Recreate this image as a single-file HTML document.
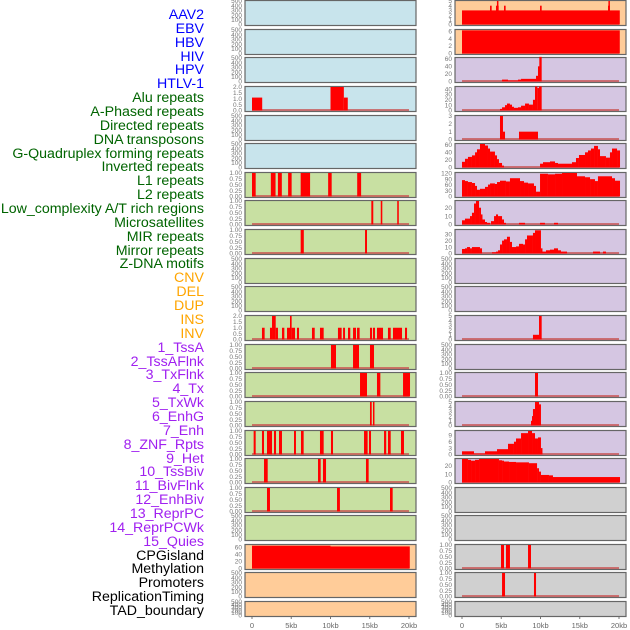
<!DOCTYPE html>
<html><head><meta charset="utf-8"><style>
html,body{margin:0;padding:0;background:#fff;width:630px;height:630px;overflow:hidden}
#labels{position:absolute;left:0;top:0;width:204px;height:630px}
.lab{position:absolute;right:0;font-family:"Liberation Sans",sans-serif;font-size:14.2px;line-height:14px;white-space:nowrap}
svg{position:absolute;left:0;top:0}
</style></head><body>
<div id="labels"></div>
<svg id="chart" width="630" height="630"></svg>
<script>
const trackNames = ["AAV2","EBV","HBV","HIV","HPV","HTLV-1","Alu repeats","A-Phased repeats","Directed repeats","DNA transposons","G-Quadruplex forming repeats","Inverted repeats","L1 repeats","L2 repeats","Low_complexity A/T rich regions","Microsatellites","MIR repeats","Mirror repeats","Z-DNA motifs","CNV","DEL","DUP","INS","INV","1_TssA","2_TssAFlnk","3_TxFlnk","4_Tx","5_TxWk","6_EnhG","7_Enh","8_ZNF_Rpts","9_Het","10_TssBiv","11_BivFlnk","12_EnhBiv","13_ReprPC","14_ReprPCWk","15_Quies","CPGisland","Methylation","Promoters","ReplicationTiming","TAD_boundary"];
const trackGroups = [0,0,0,0,0,0,1,1,1,1,1,1,1,1,1,1,1,1,1,2,2,2,2,2,3,3,3,3,3,3,3,3,3,3,3,3,3,3,3,4,4,4,4,4];
const xTickKb = [0,5,10,15,20];
const xTickLabels = ["0","5kb","10kb","15kb","20kb"];

const TE = ["0","100","200","300","400","500"], VE=[0,100,200,300,400,500];
const TB = ["0.00","0.25","0.50","0.75","1.00"], VB=[0,0.25,0.5,0.75,1];
const T2 = ["0.0","0.5","1.0","1.5","2.0"], V2=[0,0.5,1,1.5,2];

const leftAlu = [[0,1.3,1.1],[10,11.7,2],[11.7,12.2,1.1]];
const leftL1 = [[0,0.47,1],[2.4,3.0,1],[3.3,3.8,1],[4.6,5.05,1],[6.2,7.4,1],[9.7,10.15,1],[13.4,13.9,1]];
const leftL2 = [[15.2,15.45,1],[16.4,16.6,1],[18.5,18.7,1]];
const leftLowc = [[6.2,6.6,1],[14.4,14.65,1]];
const leftIns = [[1.27,1.61,1],[2.29,2.55,1],[2.55,3.02,2],[3.02,3.31,1],[3.82,4.12,1],[4.46,4.84,1],[4.84,5.05,2],[5.05,5.48,1],[5.73,5.99,1],[7.64,7.99,1],[8.66,9.13,1],[10.95,11.42,1],[11.6,11.85,1],[12.23,12.52,1],[12.87,13.25,1],[13.38,13.71,1],[15.03,15.29,1],[15.41,15.67,1],[15.92,16.69,1],[17.32,17.67,1],[17.96,19.11,1],[19.49,19.75,1]];
const leftTssA = [[10.06,10.7,1],[12.87,13.63,1],[15.03,15.54,1]];
const leftTssAFlnk = [[13.76,14.65,1],[15.92,16.35,1],[19.24,20.13,1]];
const leftTxFlnk = [[15.03,15.25,1],[15.41,15.6,1]];
const leftTx = [[0.21,0.47,1],[1.27,1.53,1],[1.91,2.55,1],[2.8,3.06,1],[3.44,3.82,1],[5.35,5.6,1],[6.24,6.58,1],[8.66,9.13,1],[10.06,10.32,1],[14.27,14.73,1],[14.9,15.16,1],[16.82,17.1,1],[17.32,17.67,1],[18.98,19.36,1]];
const leftTxWk = [[1.53,2.0,1],[8.41,8.75,1],[9.04,9.43,1],[14.52,14.86,1]];
const leftEnhG = [[1.91,2.29,1],[10.83,11.2,1],[17.58,17.92,1]];
const leftCpg = [[0,10,64],[10,20.1,62]];

const rightAav2 = [[0,20.1,3],[3.57,3.78,4],[4.33,4.67,4],[4.45,4.6,5],[5.35,5.56,4],[9.94,10.15,4],[18.6,18.85,4],[18.65,18.8,5]];
const rightEbv = [[0,20.1,6.2]];
const rightHiv = [[5.1,5.86,5],[5.86,7.13,3],[7.13,7.52,5],[7.52,9.43,7],[9.43,9.68,15],[9.68,9.85,40],[9.85,10.15,65]];
const rightHpv = [[4.84,5.1,3],[5.1,5.48,6],[5.48,5.73,10],[5.73,6.11,13],[6.11,6.37,11],[6.37,6.62,7],[6.62,7.13,5],[7.13,7.52,6],[7.52,8.03,9],[8.03,8.53,13],[8.53,9.04,11],[9.04,9.3,20],[9.3,9.6,45],[9.6,9.81,42],[9.81,10.15,45]];
const rightHtlv = [[4.84,5.22,3],[5.22,5.48,1],[7.26,9.68,1]];
const rightAlu = [[0,0.38,15],[0.38,0.76,23],[0.76,1.27,28],[1.27,1.66,32],[1.66,1.91,40],[1.91,2.29,48],[2.29,2.93,62],[2.93,3.31,58],[3.31,3.57,50],[3.57,4.2,42],[4.2,4.46,32],[4.46,4.71,22],[4.71,5.1,12],[5.1,5.35,5],[9.94,10.32,10],[10.32,11.21,14],[11.21,11.85,16],[11.85,12.23,12],[12.23,14.01,10],[14.01,14.52,14],[14.52,14.9,25],[14.9,15.67,33],[15.67,16.05,40],[16.05,16.43,45],[16.43,16.82,50],[16.82,17.32,57],[17.32,17.58,48],[17.58,18.34,30],[18.34,18.85,26],[18.85,19.11,40],[19.11,19.75,50],[19.75,20.13,45]];
const rightAphased = [[0,0.38,85],[0.38,0.76,80],[0.76,1.27,75],[1.27,1.66,70],[1.66,1.91,55],[1.91,2.29,35],[2.29,2.93,40],[2.93,3.31,50],[3.31,3.57,62],[3.57,4.2,68],[4.2,4.46,65],[4.46,4.84,75],[4.84,5.6,82],[5.6,6.11,78],[6.11,7.39,95],[7.39,7.9,80],[7.9,8.41,72],[8.41,9.17,68],[9.17,9.43,55],[9.43,9.94,25],[9.94,10.95,118],[10.95,11.85,115],[11.85,12.74,118],[12.74,14.65,122],[14.65,15.67,105],[15.67,16.31,100],[16.31,16.94,90],[16.94,17.32,80],[17.32,19.11,105],[19.11,19.49,95],[19.49,20.13,82]];
const rightDirected = [[0,0.38,5],[0.38,1.02,7],[1.02,1.27,10],[1.27,1.53,14],[1.53,1.78,25],[1.78,2.17,28],[2.17,2.42,20],[2.42,2.55,12],[2.55,2.93,6],[2.93,3.19,3],[3.19,3.57,2],[3.69,4.08,4],[4.08,4.33,10],[4.33,4.59,12],[4.59,5.1,10],[5.1,5.35,6],[5.35,5.6,2],[7.26,8.03,2],[9.94,10.57,2],[11.72,12.23,2]];
const rightDna = [[0,0.38,7],[0.38,0.64,8],[0.64,1.02,10],[1.02,1.27,8],[1.27,2.29,10],[2.29,2.55,8],[3.82,4.33,2],[4.33,4.59,3],[4.59,4.84,5],[4.84,5.1,14],[5.1,5.35,20],[5.35,5.73,22],[5.73,6.11,26],[6.11,6.37,18],[6.37,6.88,10],[6.88,7.26,11],[7.26,7.77,15],[7.77,8.03,14],[8.03,8.28,22],[8.28,9.04,28],[9.04,9.3,32],[9.3,10.06,36],[10.06,10.19,8],[10.19,10.7,3],[10.7,11.21,5],[11.21,11.72,6],[11.72,12.23,8],[12.23,12.61,5],[12.61,13.38,3],[16.69,17.58,3],[17.96,18.34,3]];
const rightL1 = [[9.04,9.81,1],[9.81,10.15,5]];
const rightLowc = [[9.3,9.68,1]];
const rightMicro = [[8.79,8.92,1],[8.92,9.04,2],[9.04,9.3,3.5],[9.3,9.81,5],[9.81,10.06,4.5]];
const rightMir = [[0,1.53,1.5],[1.53,2.93,0.5],[2.93,4.46,1.5],[4.46,5.86,2.5],[5.86,6.62,5],[6.62,6.88,6],[6.88,7.52,7.5],[7.52,8.41,10],[8.41,8.92,11],[8.92,9.3,10],[9.3,9.68,7.5],[9.68,10.06,8],[10.06,10.19,3]];
const rightMirror = [[0,0.76,28],[0.76,1.15,27],[1.15,1.66,26],[1.66,2.17,27],[2.17,4.71,28],[4.71,5.1,26.5],[5.1,5.35,26],[5.35,5.99,25],[5.99,6.88,24.5],[6.88,8.53,24],[8.53,9.56,23],[9.56,9.81,17],[9.81,10.06,13],[10.06,11.08,9],[11.08,11.59,8.5],[11.59,20.13,6.5]];
const rightProm = [[4.97,5.35,1],[5.6,6.11,1],[8.41,8.79,1]];
const rightRep = [[5.1,5.48,1],[9.17,9.43,1]];

const GREEN="#c8e0a2", BLUE="#c8e4ec", PEACH="#ffcc99", LAV="#d5c6e2", GRAY="#d0d0d0";
const E = {tv:VE,tl:TE,max:500,segs:[]};
const leftPanels = [
 {...E,bg:BLUE},{...E,bg:BLUE},{...E,bg:BLUE},
 {tv:V2,tl:T2,max:2,segs:leftAlu,bg:BLUE},{...E,bg:BLUE},{...E,bg:BLUE},
 {tv:VB,tl:TB,max:1,segs:leftL1,bg:GREEN},{tv:VB,tl:TB,max:1,segs:leftL2,bg:GREEN},{tv:VB,tl:TB,max:1,segs:leftLowc,bg:GREEN},
 {...E,bg:GREEN},{...E,bg:GREEN},
 {tv:V2,tl:T2,max:2,segs:leftIns,bg:GREEN},{tv:VB,tl:TB,max:1,segs:leftTssA,bg:GREEN},{tv:VB,tl:TB,max:1,segs:leftTssAFlnk,bg:GREEN},
 {tv:VB,tl:TB,max:1,segs:leftTxFlnk,bg:GREEN},{tv:VB,tl:TB,max:1,segs:leftTx,bg:GREEN},{tv:VB,tl:TB,max:1,segs:leftTxWk,bg:GREEN},
 {tv:VB,tl:TB,max:1,segs:leftEnhG,bg:GREEN},{...E,bg:GREEN},
 {tv:[0,20,40,60],tl:["0","20","40","60"],max:66,segs:leftCpg,bg:PEACH},{...E,bg:PEACH},{...E,bg:PEACH}
];
const rightPanels = [
 {tv:[0,1,2,3,4,5],tl:["0","1","2","3","4","5"],max:5,segs:rightAav2,bg:PEACH},
 {tv:[0,2,4,6],tl:["0","2","4","6"],max:6.3,segs:rightEbv,bg:PEACH},
 {tv:[0,20,40,60],tl:["0","20","40","60"],max:62,segs:rightHiv,bg:LAV},
 {tv:[0,10,20,30,40],tl:["0","10","20","30","40"],max:44,segs:rightHpv,bg:LAV},
 {tv:[0,1,2,3],tl:["0","1","2","3"],max:3,segs:rightHtlv,bg:LAV},
 {tv:[0,20,40,60],tl:["0","20","40","60"],max:62,segs:rightAlu,bg:LAV},
 {tv:[0,30,60,90,120],tl:["0","30","60","90","120"],max:122,segs:rightAphased,bg:LAV},
 {tv:[0,10,20],tl:["0","10","20"],max:28,segs:rightDirected,bg:LAV},
 {tv:[0,10,20,30],tl:["0","10","20","30"],max:36.5,segs:rightDna,bg:LAV},
 {...E,bg:LAV},{...E,bg:LAV},
 {tv:[0,1,2,3,4,5],tl:["0","1","2","3","4","5"],max:5,segs:rightL1,bg:LAV},
 {...E,bg:LAV},
 {tv:VB,tl:TB,max:1,segs:rightLowc,bg:LAV},
 {tv:[0,1,2,3,4,5],tl:["0","1","2","3","4","5"],max:5,segs:rightMicro,bg:LAV},
 {tv:[0,3,6,9],tl:["0","3","6","9"],max:11,segs:rightMir,bg:LAV},
 {tv:[0,10,20],tl:["0","10","20"],max:28,segs:rightMirror,bg:LAV},
 {...E,bg:GRAY},{...E,bg:GRAY},
 {tv:VB,tl:TB,max:1,segs:rightProm,bg:GRAY},{tv:VB,tl:TB,max:1,segs:rightRep,bg:GRAY},{...E,bg:GRAY}
];
const rowTops = [0,29,57,86,115,143,172,200,229,258,286,315,344,372,401,430,458,487,515,544,572,601];

const NS="http://www.w3.org/2000/svg";
const svg=document.getElementById('chart');
const groupColors=["#0000ff","#006400","#ffa500","#a020f0","#000000"];
const labDiv=document.getElementById('labels');
trackNames.forEach((n,i)=>{
  const d=document.createElement('div');
  d.className='lab';
  d.textContent=n;
  d.style.color=groupColors[trackGroups[i]];
  d.style.top=(15+i*13.86-7)+'px';
  
  
  labDiv.appendChild(d);
});
function mk(tag,attrs,parent){const e=document.createElementNS(NS,tag);for(const k in attrs)e.setAttribute(k,attrs[k]);(parent||svg).appendChild(e);return e;}
const KB=7.85;
function xScale(col,kb){return 252+col*210+kb*KB;}
function drawPanel(col,row,p){
  const top=rowTops[row], h=(row===21?15:25), left=245+col*210, w=171;
  const g=mk('g',{});
  
  
  const bg=mk('rect',{x:left,y:top+0.5,width:w,height:h,fill:p.bg,stroke:'#666','stroke-width':1.2},g);
  
  
  const yS=v=>top+h-0.5-v/p.max*(h-1.5);
  p.tv.forEach((v,i)=>{
    const t=mk('text',{x:left-3,y:yS(v)+2.2,'text-anchor':'end','font-size':6.5,fill:'#777','font-family':'Liberation Sans, sans-serif'},g);
    t.textContent=p.tl[i];
    
    
  });
  if(p.segs.length){
    const bl=mk('line',{x1:xScale(col,0),x2:xScale(col,20),y1:top+h-1,y2:top+h-1,stroke:'#c85050','stroke-width':1.6},g);
    
    
  }
  p.segs.forEach(s=>{
    const x0=xScale(col,s[0]), x1=xScale(col,s[1]), y=yS(s[2]);
    const r=mk('rect',{x:x0,y:y,width:Math.max(1.5,x1-x0),height:top+h-0.5-y,fill:'#ff0000'},g);
    
    
  });
}
leftPanels.forEach((p,i)=>drawPanel(0,i,p));
rightPanels.forEach((p,i)=>drawPanel(1,i,p));
[0,1].forEach(col=>{
  xTickKb.forEach((kb,i)=>{
    const tk=mk('line',{x1:xScale(col,kb),x2:xScale(col,kb),y1:617,y2:619,stroke:'#777','stroke-width':1});
    
    
    const t=mk('text',{x:xScale(col,kb),y:628,'text-anchor':'middle','font-size':7.5,fill:'#666','font-family':'Liberation Sans, sans-serif'});
    t.textContent=xTickLabels[i];
    
    
  });
});
</script>
</body></html>
